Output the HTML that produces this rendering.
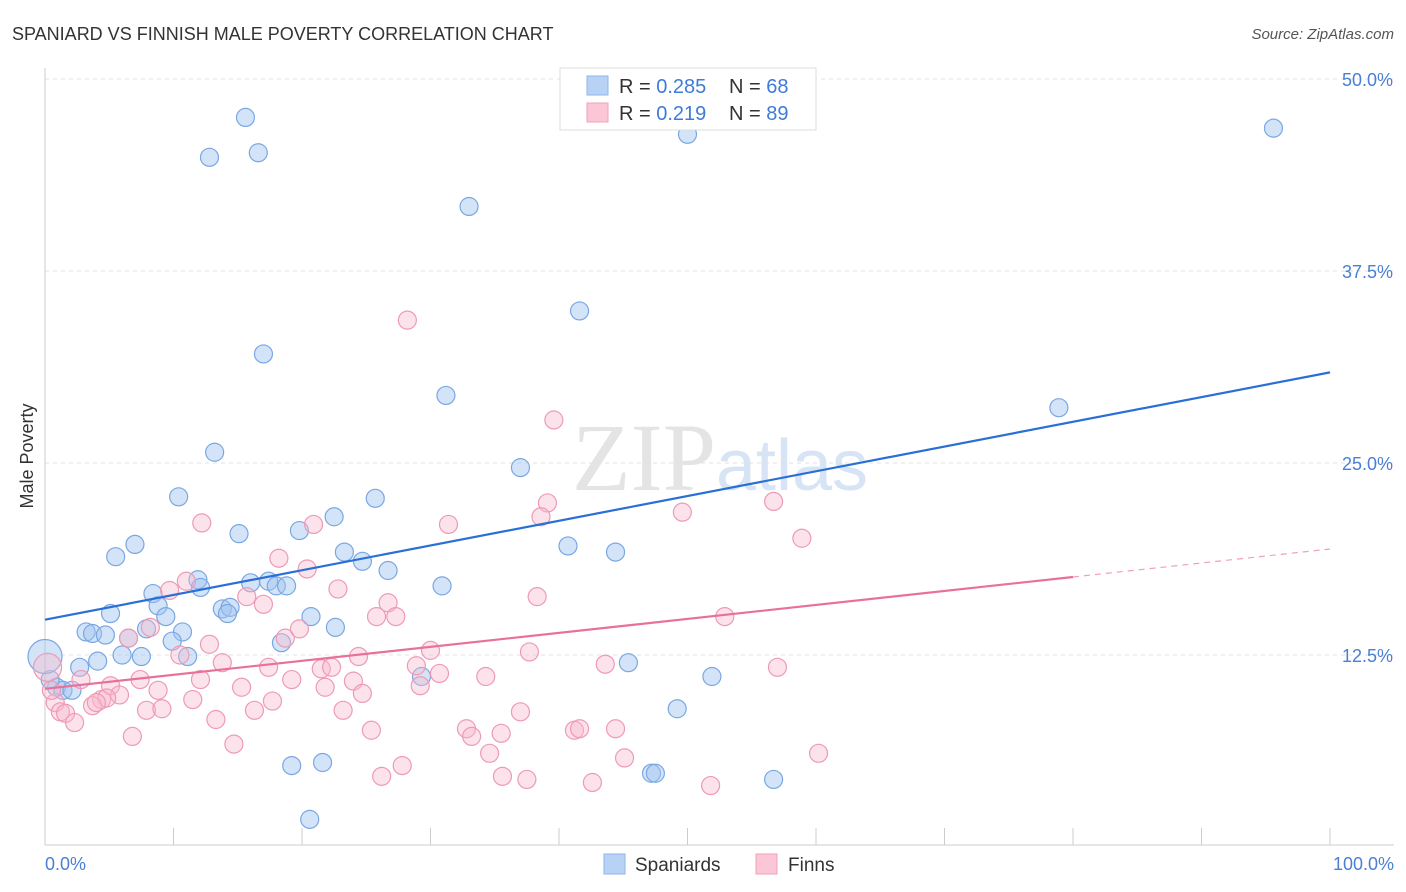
<!DOCTYPE html>
<html><head><meta charset="utf-8"><style>
body{margin:0;background:#fff;font-family:"Liberation Sans",sans-serif;}
svg{display:block}
</style></head><body>
<svg id="chart" width="1406" height="892" viewBox="0 0 1406 892" xmlns="http://www.w3.org/2000/svg">
<text x="12" y="40" font-size="18" fill="#333">SPANIARD VS FINNISH MALE POVERTY CORRELATION CHART</text>
<text x="1394" y="39" font-size="15" fill="#555" text-anchor="end" font-style="italic">Source: ZipAtlas.com</text>
<text x="720" y="490" font-size="96" fill="#e4e4e4" text-anchor="middle" font-family="Liberation Serif,serif">ZIP<tspan fill="#d6e4f5" font-family="Liberation Sans,sans-serif" font-size="72">atlas</tspan></text>
<text transform="translate(33,456) rotate(-90)" font-size="18" fill="#333" text-anchor="middle">Male Poverty</text>
<g id="grid"></g>
<g id="pts"></g>
<g id="lines"></g>
<g>
<rect x="560" y="68" width="256" height="62" fill="#fff" stroke="#ddd"/>
<rect x="587" y="76" width="21" height="19" fill="#b8d2f5" stroke="#8fb4e8"/>
<rect x="587" y="103" width="21" height="19" fill="#fbc6d6" stroke="#f0a2bb"/>
<text x="619" y="93" font-size="20" fill="#333">R = <tspan fill="#3f7bd8">0.285</tspan></text>
<text x="729" y="93" font-size="20" fill="#333">N = <tspan fill="#3f7bd8">68</tspan></text>
<text x="619" y="120" font-size="20" fill="#333">R = <tspan fill="#3f7bd8"> 0.219</tspan></text>
<text x="729" y="120" font-size="20" fill="#333">N = <tspan fill="#3f7bd8">89</tspan></text>
</g>
<g>
<rect x="604" y="854" width="21" height="20" fill="#b8d2f5" stroke="#8fb4e8"/>
<text x="635" y="871" font-size="19" fill="#333">Spaniards</text>
<rect x="756" y="854" width="21" height="20" fill="#fbc6d6" stroke="#f0a2bb"/>
<text x="788" y="871" font-size="19" fill="#333">Finns</text>
</g>
</svg>
<script>
const yTicks=[12.5,25,37.5,50];
const yTickLabels=["12.5%","25.0%","37.5%","50.0%"];
const xTickLabels=["0.0%","100.0%"];
const blueX=[15.6,12.8,16.6,33.0,50.0,95.6,41.6,17.0,31.2,78.9,13.2,37.0,10.4,25.7,15.1,19.8,22.5,7.0,5.5,23.3,24.7,40.7,44.4,26.7,30.9,16.0,17.4,11.9,12.1,18.0,18.8,8.4,8.8,5.1,9.4,13.8,14.4,14.2,20.7,22.6,7.9,10.7,3.2,3.7,4.7,6.5,9.9,18.4,6.0,7.5,11.1,4.1,2.7,45.4,29.3,51.9,0.9,1.4,2.1,49.2,19.2,21.6,47.2,47.5,56.7,20.6,0.4,0];
const blueY=[47.5,44.9,45.2,41.7,46.4,46.8,34.9,32.1,29.4,28.6,25.7,24.7,22.8,22.7,20.4,20.6,21.5,19.7,18.9,19.2,18.6,19.6,19.2,18.0,17.0,17.2,17.3,17.4,16.9,17.0,17.0,16.5,15.7,15.2,15.0,15.5,15.6,15.2,15.0,14.3,14.2,14.0,14.0,13.9,13.8,13.6,13.4,13.3,12.5,12.4,12.4,12.1,11.7,12.0,11.1,11.1,10.4,10.2,10.2,9.0,5.3,5.5,4.8,4.8,4.4,1.8,10.9,12.4];
const blueR=[9,9,9,9,9,9,9,9,9,9,9,9,9,9,9,9,9,9,9,9,9,9,9,9,9,9,9,9,9,9,9,9,9,9,9,9,9,9,9,9,9,9,9,9,9,9,9,9,9,9,9,9,9,9,9,9,9,9,9,9,9,9,9,9,9,9,9,17];
const pinkX=[28.2,39.6,39.1,38.6,56.7,49.6,31.4,20.9,12.2,58.9,18.2,20.4,11.0,9.7,22.8,38.3,15.7,17.0,26.7,25.8,27.3,52.9,8.2,6.5,18.7,19.8,12.8,30.0,24.4,37.7,10.5,13.8,17.4,21.5,22.3,28.9,43.6,57.0,30.7,34.3,2.8,5.1,7.4,12.1,19.2,24.0,29.2,15.3,21.8,24.7,5.8,4.4,4.8,8.8,11.5,17.7,0.8,3.7,4.0,1.2,1.6,2.3,7.9,9.1,16.3,23.2,37.0,13.3,25.4,32.8,33.2,35.5,41.2,41.6,44.4,6.8,14.7,34.6,45.1,60.2,27.8,26.2,35.6,37.5,42.6,51.8,0.5,0.2];
const pinkY=[34.3,27.8,22.4,21.5,22.5,21.8,21.0,21.0,21.1,20.1,18.8,18.1,17.3,16.7,16.8,16.3,16.3,15.8,15.9,15.0,15.0,15.0,14.3,13.6,13.6,14.2,13.2,12.8,12.4,12.7,12.5,12.0,11.7,11.6,11.7,11.8,11.9,11.7,11.3,11.1,10.9,10.5,10.9,10.9,10.9,10.8,10.5,10.4,10.4,10.0,9.9,9.6,9.7,10.2,9.6,9.5,9.4,9.2,9.4,8.8,8.7,8.1,8.9,9.0,8.9,8.9,8.8,8.3,7.6,7.7,7.2,7.4,7.6,7.7,7.7,7.2,6.7,6.1,5.8,6.1,5.3,4.6,4.6,4.4,4.2,4.0,10.2,11.7];
const pinkR=pinkX.map((v,i)=>i===pinkX.length-1?14:9);
const blueTrend=[14.8,30.9];
const pinkTrend=[10.3,19.4];
const pinkSolidEnd=80;

const NS="http://www.w3.org/2000/svg";
const X0=45,X1=1330,Y0=847,PPU=15.36;
const sx=v=>X0+(X1-X0)*v/100;
const sy=v=>Y0-v*PPU;
function mk(tag,attrs,parent){const e=document.createElementNS(NS,tag);for(const k in attrs)e.setAttribute(k,attrs[k]);parent.appendChild(e);return e;}
const grid=document.getElementById('grid');
yTicks.forEach((t,i)=>{
  const l=mk('line',{x1:45,x2:1394,y1:sy(t),y2:sy(t),stroke:'#e2e2e2','stroke-dasharray':'4,4'},grid);
  
  
  const tx=mk('text',{x:1393,y:sy(t)+7,'font-size':18,fill:'#4a7fd4','text-anchor':'end'},grid);
  tx.textContent=yTickLabels[i];
  
  
});
const ax=mk('line',{x1:45,x2:1394,y1:845,y2:845,stroke:'#ccc'},grid);


const ay=mk('line',{x1:45,x2:45,y1:68,y2:845,stroke:'#ccc'},grid);


for(let i=0;i<=10;i++){
  const tk=mk('line',{x1:sx(i*10),x2:sx(i*10),y1:828,y2:845,stroke:'#ccc'},grid);
  
  
}
[[0,'start',45],[100,'end',1394]].forEach(([v,a,x],i)=>{
  const t=mk('text',{x:x,y:870,'font-size':18,fill:'#4a7fd4','text-anchor':a},grid);
  t.textContent=xTickLabels[i];
  
  
});
const pts=document.getElementById('pts');
blueX.forEach((v,i)=>{
  const c=mk('circle',{cx:sx(v),cy:sy(blueY[i]),r:blueR[i],fill:'rgba(160,195,240,0.45)',stroke:'#7aa7e3','stroke-width':1.2},pts);
  
  
});
pinkX.forEach((v,i)=>{
  const c=mk('circle',{cx:sx(v),cy:sy(pinkY[i]),r:pinkR[i],fill:'rgba(248,185,205,0.4)',stroke:'#ee9ab5','stroke-width':1.2},pts);
  
  
});
const lines=document.getElementById('lines');
const bl=mk('line',{x1:sx(0),y1:sy(blueTrend[0]),x2:sx(100),y2:sy(blueTrend[1]),stroke:'#2a6fd6','stroke-width':2.2},lines);


const pAt=x=>pinkTrend[0]+(pinkTrend[1]-pinkTrend[0])*x/100;
const pl=mk('line',{x1:sx(0),y1:sy(pAt(0)),x2:sx(pinkSolidEnd),y2:sy(pAt(pinkSolidEnd)),stroke:'#e8709a','stroke-width':2.2},lines);


const pd=mk('line',{x1:sx(pinkSolidEnd),y1:sy(pAt(pinkSolidEnd)),x2:sx(100),y2:sy(pAt(100)),stroke:'#f0a0bb','stroke-width':1.2,'stroke-dasharray':'6,5'},lines);


</script>
</body></html>
